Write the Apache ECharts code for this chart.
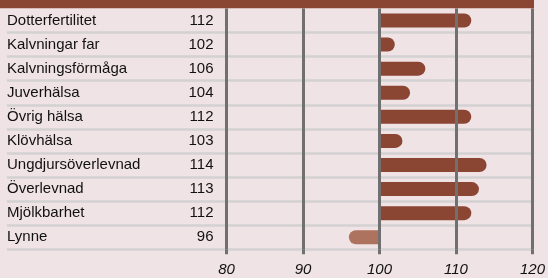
<!DOCTYPE html>
<html>
<head>
<meta charset="utf-8">
<script src="https://cdn.jsdelivr.net/npm/echarts@6/dist/echarts.min.js"></script>
<style>
  html, body { margin: 0; padding: 0; background: #efe3e5; }
  #chart { width: 548px; height: 278px; }
</style>
</head>
<body>
<div id="chart"></div>
<script>
  var categories = ['Dotterfertilitet', 'Kalvningar far', 'Kalvningsförmåga', 'Juverhälsa', 'Övrig hälsa',
    'Klövhälsa', 'Ungdjursöverlevnad', 'Överlevnad', 'Mjölkbarhet', 'Lynne'];
  var values = [112, 102, 106, 104, 112, 103, 114, 113, 112, 96];
  var baseline = 100;
  var tickMin = 80;
  var tickMax = 120;
  var tickStep = 10;

  var dark = '#8b4533';
  var light = '#ae735e';
  var ink = '#111111';
  var font = '"Liberation Sans", Arial, sans-serif';

  // bars start at the 100 line, so stack an invisible part under them
  var hidden = values.map(function (v) { return Math.min(v, baseline); });
  var shown = values.map(function (v) {
    var up = v >= baseline;
    return {
      value: Math.abs(v - baseline),
      itemStyle: {
        color: up ? dark : light,
        borderRadius: up ? [0, 7, 7, 0] : [7, 0, 0, 7]
      }
    };
  });

  var myChart = echarts.init(document.getElementById('chart'));
  myChart.setOption({
    animation: false,
    backgroundColor: '#efe3e5',
    graphic: [{
      type: 'rect',
      left: 0,
      top: 0,
      shape: { width: 534, height: 8.2 },
      style: { fill: dark },
      z: 10
    }],
    grid: [
      { left: 226.5, right: 15.5, top: 8.4, bottom: 28.7 },
      { left: 7, right: 15.5, top: 8.4, bottom: 28.7 }
    ],
    xAxis: [
      {
        gridIndex: 0,
        type: 'value',
        min: tickMin,
        max: tickMax,
        interval: tickStep,
        z: 5,
        axisLine: { show: false },
        axisTick: { show: true, length: 5, lineStyle: { color: '#707070', width: 3 } },
        splitLine: { show: true, lineStyle: { color: '#707070', width: 3 } },
        axisLabel: {
          margin: 13,
          color: ink,
          fontSize: 15,
          fontStyle: 'italic',
          fontFamily: font
        }
      },
      {
        gridIndex: 1,
        type: 'value',
        show: false
      }
    ],
    yAxis: [
      {
        gridIndex: 0,
        type: 'category',
        inverse: true,
        data: categories,
        axisLine: { show: false },
        axisTick: { show: false },
        splitLine: { show: false },
        axisLabel: {
          margin: 13,
          formatter: function (name, i) {
            return '{n|' + name + '}{v|' + values[i] + '}';
          },
          rich: {
            n: { width: 160, align: 'left', fontSize: 15, color: ink, fontFamily: font },
            v: { width: 46.5, align: 'right', fontSize: 15, color: ink, fontFamily: font }
          }
        }
      },
      {
        gridIndex: 1,
        type: 'category',
        inverse: true,
        data: categories,
        axisLine: { show: false },
        axisTick: { show: false },
        axisLabel: { show: false },
        splitLine: {
          show: true,
          showMinLine: false,
          interval: 0,
          lineStyle: { color: '#d3d1d2', width: 2.6 }
        }
      }
    ],
    series: [
      {
        name: 'base',
        type: 'bar',
        stack: 'a',
        barWidth: 14,
        silent: true,
        itemStyle: { color: 'transparent' },
        data: hidden
      },
      {
        name: 'diff',
        type: 'bar',
        stack: 'a',
        barWidth: 14,
        data: shown
      }
    ]
  });
</script>
</body>
</html>
